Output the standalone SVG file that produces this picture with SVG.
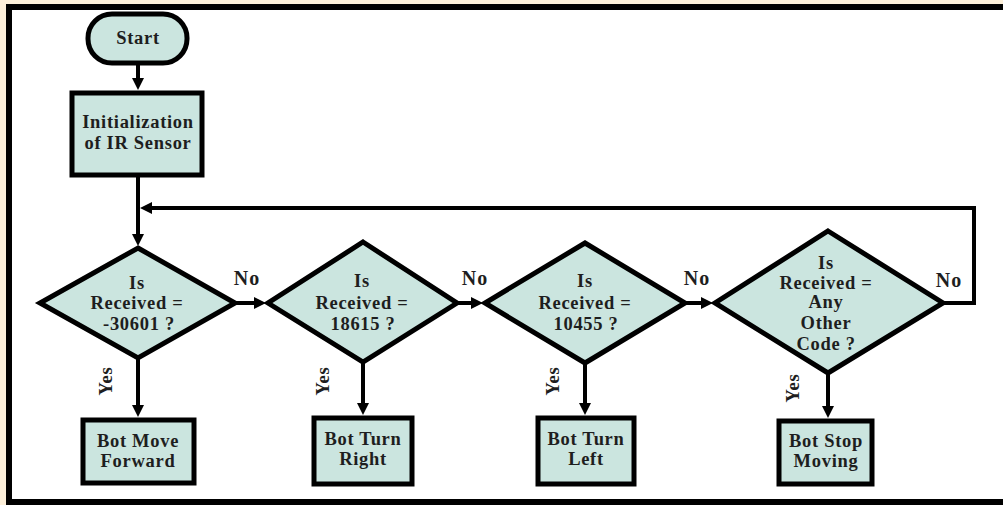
<svg xmlns="http://www.w3.org/2000/svg" width="1003" height="505" viewBox="0 0 1003 505">
<defs>
<style>
.shape{fill:#cbe5df;stroke:#000;stroke-width:5;stroke-linejoin:miter}
.conn{fill:none;stroke:#000;stroke-width:4;marker-end:url(#ah)}
.loop{fill:none;stroke:#000;stroke-width:4;stroke-linejoin:miter;marker-end:url(#ah)}
text{font-family:"Liberation Serif","Times New Roman",serif;font-weight:bold;font-size:18.5px;letter-spacing:0.7px;fill:#1e1e1e;text-anchor:middle}
.lbl{font-size:20px;letter-spacing:1px}
</style>
<marker id="ah" viewBox="0 0 12 12" refX="4" refY="6" markerWidth="12" markerHeight="12" markerUnits="userSpaceOnUse" orient="auto">
<path d="M0,0 L12,6 L0,12 z" fill="#000"/>
</marker>
</defs>
<rect x="0" y="0" width="1003" height="505" fill="#fcefd9"/>
<rect x="9" y="7" width="1010" height="495" fill="#fff" stroke="#000" stroke-width="6"/>

<g id="connectors">
<line class="conn" x1="138" y1="63" x2="138" y2="82"/>
<line class="conn" x1="138" y1="176" x2="138" y2="238"/>
<line class="conn" x1="138" y1="358" x2="138" y2="409"/>
<line class="conn" x1="363" y1="362" x2="363" y2="407"/>
<line class="conn" x1="585" y1="363" x2="585" y2="407"/>
<line class="conn" x1="828" y1="373" x2="828" y2="410"/>
<line class="conn" x1="235" y1="303" x2="258" y2="303"/>
<line class="conn" x1="457" y1="303" x2="475" y2="303"/>
<line class="conn" x1="685" y1="303" x2="705" y2="303"/>
<path class="loop" d="M943,303 H974 V208 H148"/>
</g>

<g id="start">
<rect class="shape" x="88" y="14" width="99" height="49" rx="24" ry="24"/>
<text x="138" y="44">Start</text>
</g>

<g id="init">
<rect class="shape" x="72" y="93" width="130" height="82"/>
<text x="138" y="128">Initialization</text>
<text x="138" y="149">of IR Sensor</text>
</g>

<g id="d1">
<polygon class="shape" points="138,248 235,303 138,358 40,303"/>
<text x="137" y="289">Is</text>
<text x="137" y="309">Received =</text>
<text x="139" y="330">-30601 ?</text>
</g>

<g id="d2">
<polygon class="shape" points="363,242 457,303 363,362 268,303"/>
<text x="362" y="287">Is</text>
<text x="362" y="309">Received =</text>
<text x="363" y="330">18615 ?</text>
</g>

<g id="d3">
<polygon class="shape" points="585,243 685,303 585,363 485,303"/>
<text x="585" y="287">Is</text>
<text x="585" y="309">Received =</text>
<text x="586" y="330">10455 ?</text>
</g>

<g id="d4">
<polygon class="shape" points="828,231 943,303 828,373 715,303"/>
<text x="826" y="269">Is</text>
<text x="826" y="289">Received =</text>
<text x="826" y="308">Any</text>
<text x="826" y="329">Other</text>
<text x="826" y="350">Code ?</text>
</g>

<g id="b1">
<rect class="shape" x="83" y="420" width="111" height="63"/>
<text x="138" y="447">Bot Move</text>
<text x="138" y="467">Forward</text>
</g>

<g id="b2">
<rect class="shape" x="314" y="418" width="98" height="66"/>
<text x="363" y="445">Bot Turn</text>
<text x="363" y="465">Right</text>
</g>

<g id="b3">
<rect class="shape" x="538" y="418" width="96" height="66"/>
<text x="586" y="445">Bot Turn</text>
<text x="586" y="465">Left</text>
</g>

<g id="b4">
<rect class="shape" x="779" y="421" width="93" height="63"/>
<text x="826" y="447">Bot Stop</text>
<text x="826" y="467">Moving</text>
</g>

<g id="labels">
<text class="lbl" x="247" y="285">No</text>
<text class="lbl" x="475" y="285">No</text>
<text class="lbl" x="697" y="285">No</text>
<text class="lbl" x="949" y="287">No</text>
<text transform="translate(105,381) rotate(-90)" x="0" y="7">Yes</text>
<text transform="translate(322,381) rotate(-90)" x="0" y="7">Yes</text>
<text transform="translate(552,381) rotate(-90)" x="0" y="7">Yes</text>
<text transform="translate(792,388) rotate(-90)" x="0" y="7">Yes</text>
</g>
</svg>
